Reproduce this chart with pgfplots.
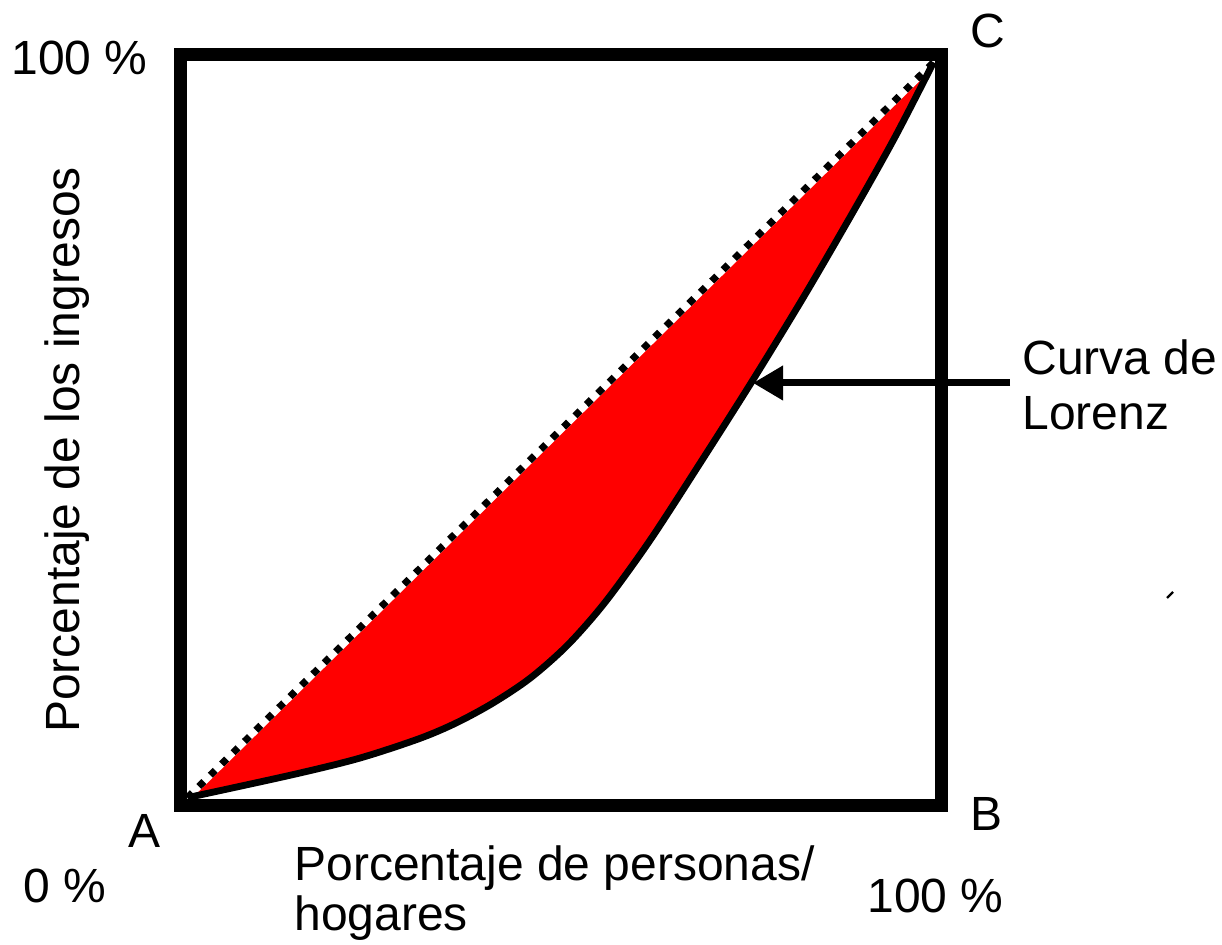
\documentclass[border=0pt]{standalone}
\usepackage{pgfplots}
\pgfplotsset{compat=1.18}
\usepgfplotslibrary{fillbetween}
\usetikzlibrary{arrows.meta}
\usepackage{fontspec}
\setmainfont{Liberation Sans}
\begin{document}
\begin{tikzpicture}[every node/.style={font=\fontsize{24pt}{27.5pt}\selectfont, inner sep=0pt}]
\path (0,0) rectangle (611pt,472pt);
\begin{axis}[at={(90pt,69.5pt)}, anchor=south west, scale only axis,
  width=380.5pt, height=375pt,
  xmin=-1, xmax=101, ymin=-1, ymax=101,
  axis line style={draw=none}, ticks=none, clip=false]
\addplot[name path=L, draw=none, smooth] coordinates {
 (0,0) (14,3.1) (23,5.35) (31,8.0) (36,10.15) (41,12.9) (46,16.3) (51,20.8)
 (56,26.6) (62,35.0) (69,45.95) (76,57.15) (83,68.8) (90,81.05) (95,90.15) (100,100)};
\addplot[name path=D, draw=none] coordinates {(0,0) (100,100)};
\addplot[fill=red, draw=none] fill between[of=L and D];
\addplot[white, line width=3.5pt] coordinates {(0,0) (100,100)};
\addplot[black, line width=3.5pt, dash pattern=on 3.5pt off 4.5pt] coordinates {(0,0) (100,100)};
\addplot[black, line width=3.4pt, smooth] coordinates {
 (0,0) (14,3.1) (23,5.35) (31,8.0) (36,10.15) (41,12.9) (46,16.3) (51,20.8)
 (56,26.6) (62,35.0) (69,45.95) (76,57.15) (83,68.8) (90,81.05) (95,90.15) (100,100)};
\draw[line width=6.5pt, line join=miter] (rel axis cs:0,0) rectangle (rel axis cs:1,1);
\end{axis}
% corner and axis texts
\node[anchor=base west] at (5.5pt,434.5pt) {100 \%};
\node[anchor=base west] at (485pt,448pt) {C};
\node[anchor=base west] at (485pt,57pt) {B};
\node[anchor=base west] at (64pt,48.5pt) {A};
\node[anchor=base west] at (11.5pt,21pt) {0 \%};
\node[anchor=base west] at (433.5pt,16pt) {100 \%};
\node[anchor=base west] at (147pt,32pt) {Porcentaje de personas/};
\node[anchor=base west] at (147pt,7pt) {hogares};
\node[anchor=base, rotate=90] at (39.5pt,247pt) {Porcentaje de los ingresos};
% annotation
\node[anchor=base west] at (511pt,284.5pt) {Curva de};
\node[anchor=base west] at (511pt,257pt) {Lorenz};
\draw[line width=3.5pt, -{Triangle[length=15pt,width=16.5pt]}] (505pt,280.5pt) -- (376.5pt,280.5pt);
\draw[line width=1.2pt] (583.5pt,173pt) -- (586.5pt,176pt);
\end{tikzpicture}
\end{document}
